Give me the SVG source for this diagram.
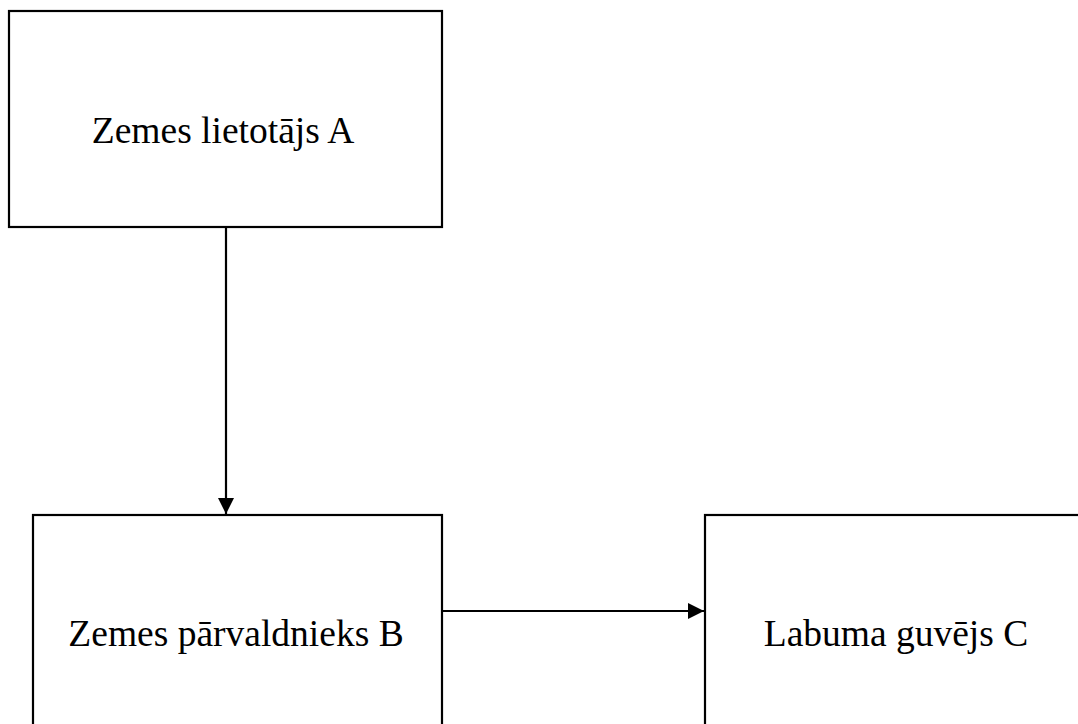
<svg xmlns="http://www.w3.org/2000/svg" width="1078" height="724" viewBox="0 0 1078 724">
<style>
.box{fill:#fff;stroke:#000;stroke-width:2.2}
.lbl{font-family:"Liberation Serif","Times New Roman",serif;font-size:37.5px;fill:#000;text-anchor:middle}
.conn{stroke:#000;stroke-width:2.2;fill:none}
</style>
<defs>
<marker id="arr" viewBox="0 0 16 16" refX="16" refY="8" markerWidth="16" markerHeight="16" markerUnits="userSpaceOnUse" orient="auto">
<path d="M0,0 L16,8 L0,16 Z" fill="#000"/>
</marker>
</defs>
<rect width="1078" height="724" fill="#fff"/>
<g id="nodeA">
<rect class="box" x="9" y="11" width="433" height="216"/>
<text class="lbl" x="223" y="143">Zemes lietotājs A</text>
</g>
<g id="nodeB">
<rect class="box" x="33" y="515" width="409" height="230"/>
<text class="lbl" x="236" y="646">Zemes pārvaldnieks B</text>
</g>
<g id="nodeC">
<rect class="box" x="705" y="515" width="400" height="230"/>
<text class="lbl" x="896" y="646">Labuma guvējs C</text>
</g>
<g id="connectors">
<line class="conn" x1="226" y1="227" x2="226" y2="514" marker-end="url(#arr)"/>
<line class="conn" x1="442" y1="611" x2="704" y2="611" marker-end="url(#arr)"/>
</g>
</svg>
